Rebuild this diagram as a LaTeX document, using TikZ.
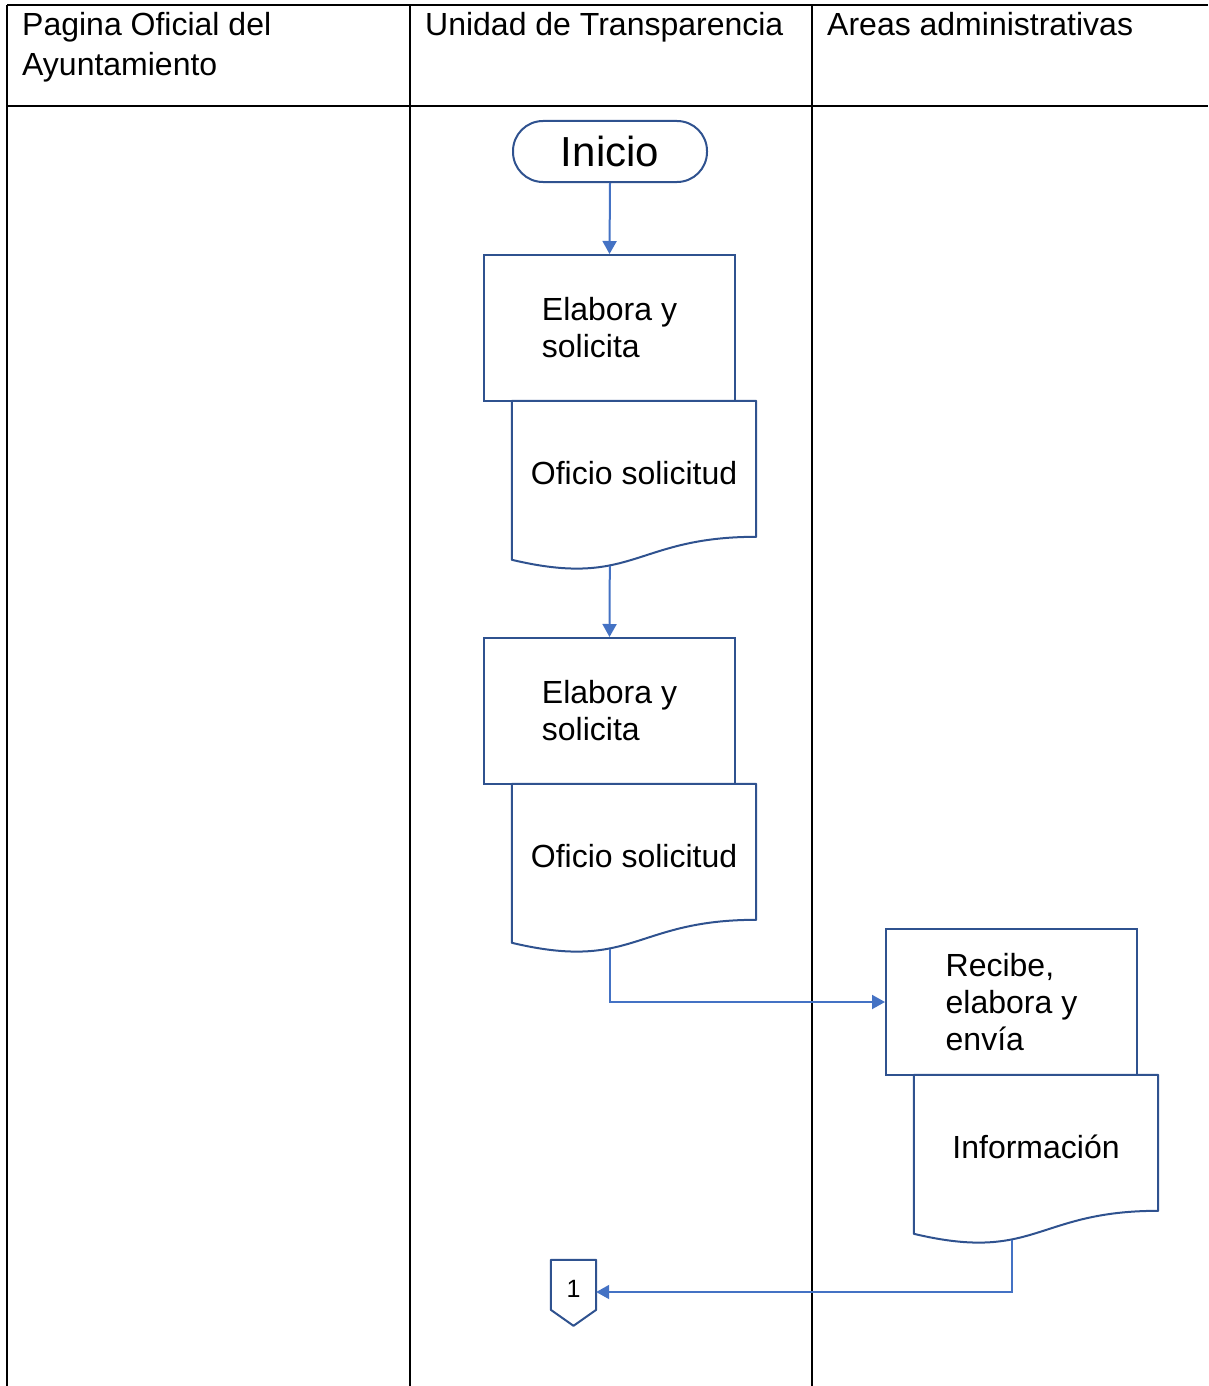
\documentclass[tikz,border=0pt]{standalone}
\usepackage{fontspec}
\setmainfont{Liberation Sans}
\usetikzlibrary{calc,arrows.meta}
\definecolor{shapeblue}{HTML}{2F528F}
\definecolor{arrowblue}{HTML}{4472C4}
\begin{document}
\begin{tikzpicture}[x=1pt,y=-1pt,
  lane/.style={line width=2pt, black},
  headtxt/.style={anchor=north west, inner sep=0pt, align=left, font=\fontsize{32}{40}\selectfont},
  procbox/.style={draw=shapeblue, line width=2pt, minimum width=251pt, minimum height=146pt, inner sep=0pt, align=left, font=\fontsize{32}{37}\selectfont},
  docnode/.style={inner sep=0pt, minimum width=244pt, minimum height=144pt, font=\fontsize{32}{37}\selectfont},
  docline/.style={draw=shapeblue, line width=2pt, line join=round},
  termbox/.style={draw=shapeblue, line width=2pt, rounded corners=30pt, minimum width=194pt, minimum height=61pt, inner sep=0pt, font=\fontsize{42}{48}\selectfont},
  flow/.style={draw=arrowblue, line width=2pt, -{Triangle[width=14pt,length=13pt]}}
]
\useasboundingbox (0,0) rectangle (1208,1386);
% swimlane table
\draw[lane] (7,5) -- (1208,5);
\draw[lane] (7,106) -- (1208,106);
\draw[lane] (7,5) -- (7,1386);
\draw[lane] (410,5) -- (410,1386);
\draw[lane] (812,5) -- (812,1386);
\node[headtxt] (h1) at (22,12.5) {Pagina Oficial del\\Ayuntamiento};
\node[headtxt] (h2) at (425,12.5) {Unidad de Transparencia};
\node[headtxt] (h3) at (827,12.5) {Areas administrativas};

% start
\node[termbox] (ini) at (610,151.5) {Inicio};

% first process + document
\node[procbox] (b1) at (609.5,328) {Elabora y\\solicita};
\node[docnode] (d1) at (634,473) {Oficio solicitud};
\draw[docline] (d1.north west) -- (d1.north east) -- ($(d1.north east)+(0,136)$)
  .. controls ($(d1.north west)+(122,136)$) and ($(d1.north west)+(122,188)$) .. ($(d1.north west)+(0,159)$) -- cycle;
\coordinate (d1b) at ($(d1.north west)+(98,165)$);

% second process + document
\node[procbox] (b2) at (609.5,711) {Elabora y\\solicita};
\node[docnode] (d2) at (634,856) {Oficio solicitud};
\draw[docline] (d2.north west) -- (d2.north east) -- ($(d2.north east)+(0,136)$)
  .. controls ($(d2.north west)+(122,136)$) and ($(d2.north west)+(122,188)$) .. ($(d2.north west)+(0,159)$) -- cycle;
\coordinate (d2b) at ($(d2.north west)+(98,165)$);

% third process + document
\node[procbox] (b3) at (1011.5,1002) {Recibe,\\elabora y\\envía};
\node[docnode] (d3) at (1036,1147) {Información};
\draw[docline] (d3.north west) -- (d3.north east) -- ($(d3.north east)+(0,136)$)
  .. controls ($(d3.north west)+(122,136)$) and ($(d3.north west)+(122,188)$) .. ($(d3.north west)+(0,159)$) -- cycle;
\coordinate (d3b) at ($(d3.north west)+(98,165)$);

% off-page connector
\node[inner sep=0pt, minimum width=45pt, minimum height=58pt, font=\fontsize{25}{30}\selectfont] (c1) at (573.5,1289) {1};
\draw[docline] (c1.north west) -- (c1.north east) -- ($(c1.north east)+(0,50)$) -- ($(c1.north)+(0,66)$) -- ($(c1.north west)+(0,50)$) -- cycle;

% connectors
\draw[flow] (ini.south) -- (b1.north);
\draw[flow] (d1b) -- (b2.north);
\draw[flow] (d2b) |- (b3.west);
\draw[flow] (d3b) |- ($(c1.east)+(0,3)$);
\end{tikzpicture}
\end{document}
